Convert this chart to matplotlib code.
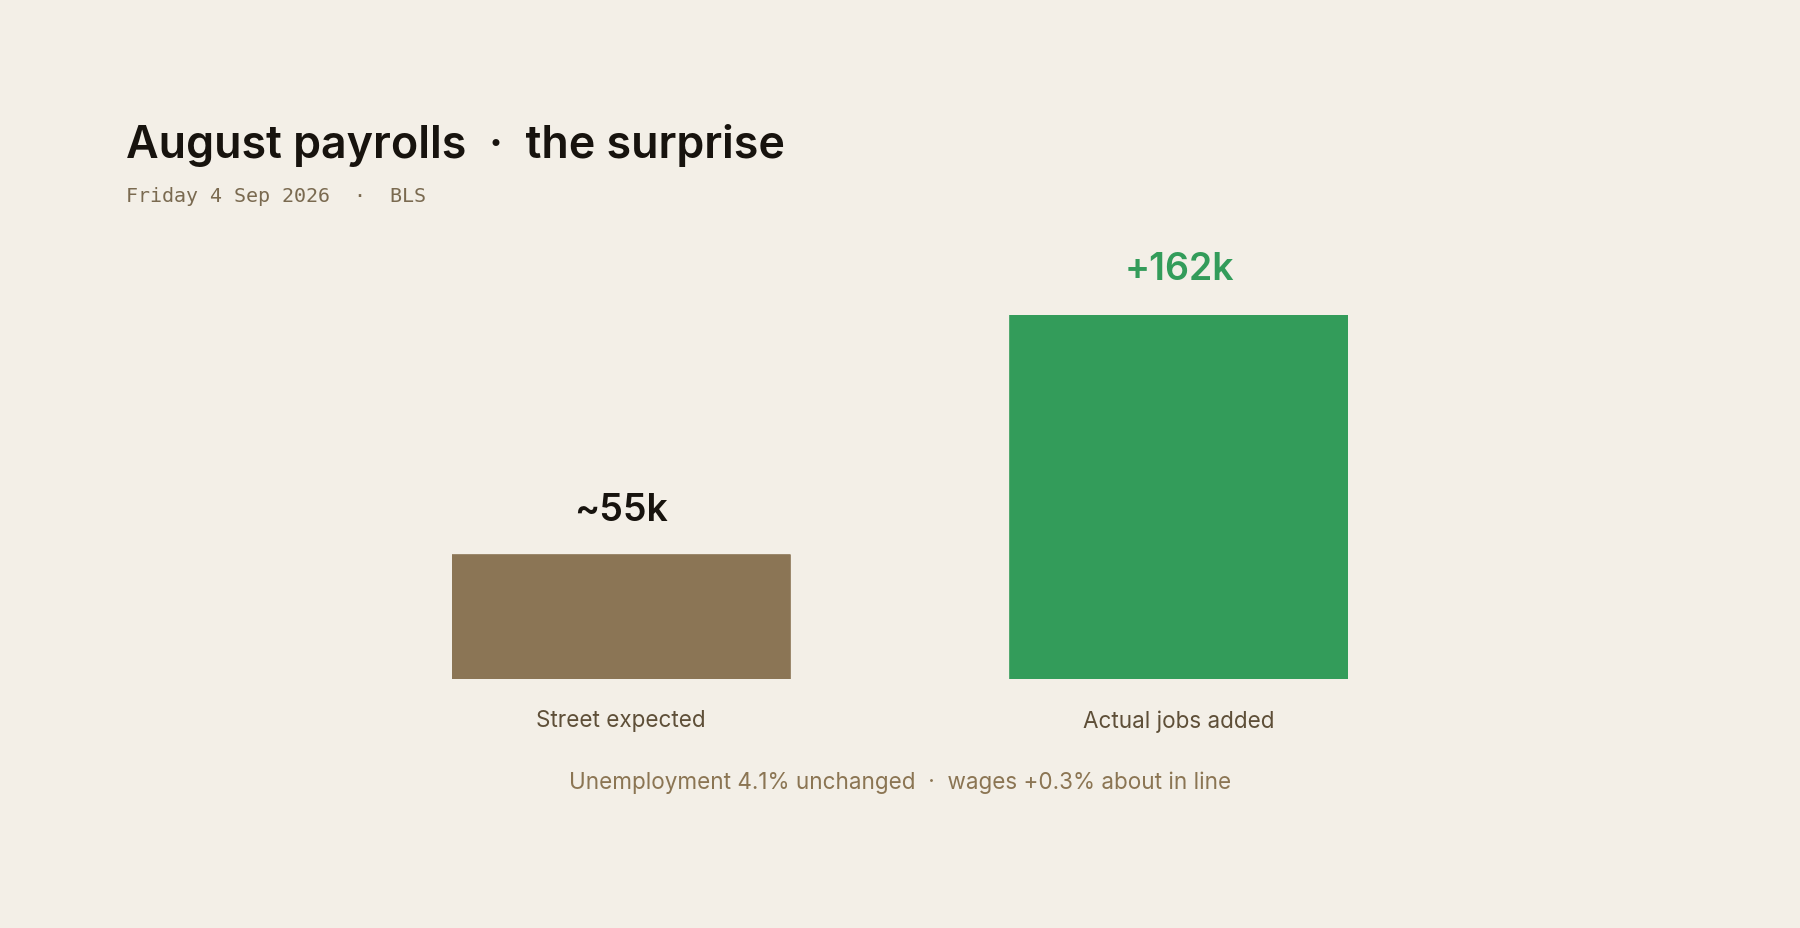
import matplotlib
matplotlib.use("Agg")
import matplotlib.pyplot as plt

# ---- data ----
categories = ["Street expected", "Actual jobs added"]
values = [55, 162]
value_labels = ["~55k", "+162k"]
bar_colors = ["#8b7555", "#339c5a"]
label_colors = ["#17130e", "#339c5a"]

title = "August payrolls  ·  the surprise"
subtitle = "Friday 4 Sep 2026  ·  BLS"
footer = "Unemployment 4.1% unchanged  ·  wages +0.3% about in line"

BG = "#f3efe7"
W, H = 1800, 929
fig = plt.figure(figsize=(W / 100, H / 100), dpi=100, facecolor=BG)

# axes placement (pixels from top-left)
x0, x1 = 452, 1348
ybase, ytop = 679.8, 315.7
ax = fig.add_axes([x0 / W, (H - ybase) / H, (x1 - x0) / W, (ybase - ytop) / H])
ax.set_facecolor("none")
bw = 0.605
ax.set_xlim(-bw / 2, 1 + bw / 2)
ax.set_ylim(0, max(values))
xs = list(range(len(categories)))
bars = ax.bar(xs, values, width=bw, color=bar_colors, edgecolor=bar_colors,
              linewidth=1.2, joinstyle="round")
for s in ax.spines.values():
    s.set_visible(False)
ax.set_xticks([])
ax.set_yticks([])

for x, v, lab, c in zip(xs, values, value_labels, label_colors):
    ax.annotate(lab, (x, v), xytext=(0, 25.5), textcoords="offset points",
                ha="center", va="baseline", fontsize=27, fontfamily="Inter",
                fontweight="semibold", color=c, annotation_clip=False)
    ax.annotate(categories[x], (x, 0), xytext=(0, -30), textcoords="offset points",
                ha="center", va="center", fontsize=16.2, fontfamily="Inter",
                color="#5e4f38", annotation_clip=False)

fig.text(126 / W, (H - 158.4) / H, title, ha="left", va="baseline",
         fontsize=32.3, fontfamily="Inter", fontweight="semibold", color="#17130e")
fig.text(126 / W, (H - 197) / H, subtitle, ha="left", va="center",
         fontsize=14.4, fontfamily="DejaVu Sans Mono", color="#7a6a50")
fig.text(900 / W, (H - 783) / H, footer, ha="center", va="center",
         fontsize=16.2, fontfamily="Inter", color="#8b7553")

fig.savefig("out.png", dpi=100, facecolor=BG)
